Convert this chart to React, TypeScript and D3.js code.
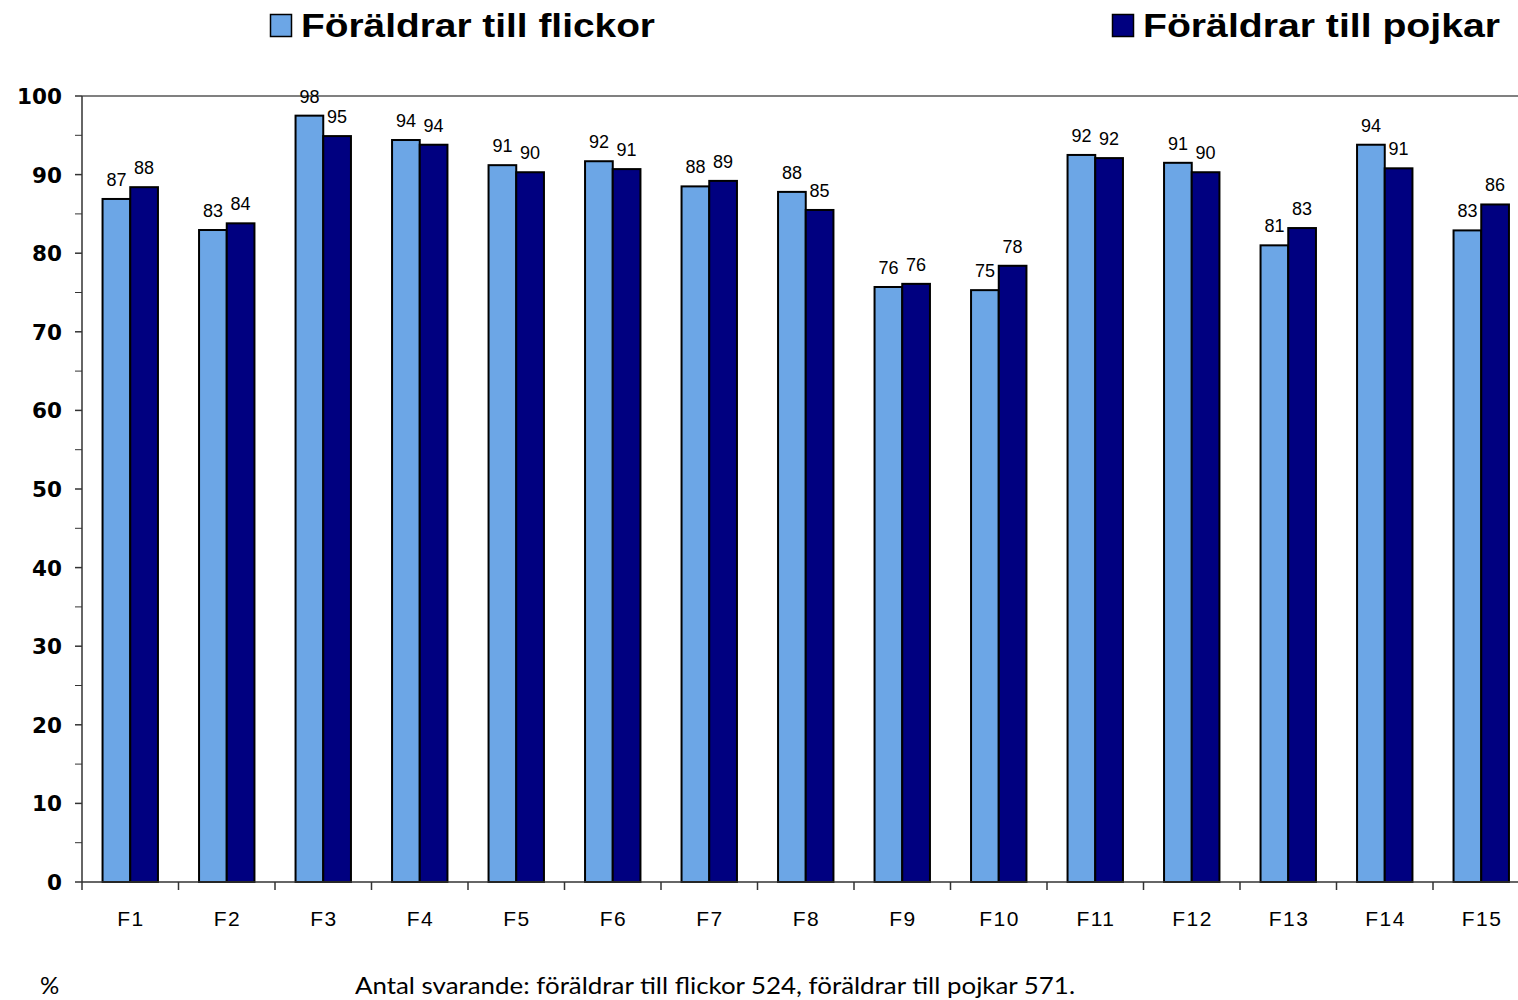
import React from "react";
import * as d3 from "d3";

const categories = ["F1","F2","F3","F4","F5","F6","F7","F8","F9","F10","F11","F12","F13","F14","F15"];
const flickor = [86.9, 82.95, 97.5, 94.4, 91.2, 91.7, 88.5, 87.8, 75.7, 75.3, 92.5, 91.5, 81.0, 93.8, 82.9];
const pojkar = [88.4, 83.8, 94.9, 93.8, 90.3, 90.7, 89.2, 85.5, 76.1, 78.4, 92.1, 90.3, 83.2, 90.8, 86.2];
const flickorLabels = [87, 83, 98, 94, 91, 92, 88, 88, 76, 75, 92, 91, 81, 94, 83];
const pojkarLabels = [88, 84, 95, 94, 90, 91, 89, 85, 76, 78, 92, 90, 83, 91, 86];
const yTicks = [0, 10, 20, 30, 40, 50, 60, 70, 80, 90, 100];
const seriesNames = ["Föräldrar till flickor", "Föräldrar till pojkar"];
const footnote = "Antal svarande: föräldrar till flickor 524, föräldrar till pojkar 571.";

const LIGHT = "#6CA6E6";
const DARK = "#000080";

export default function App() {
  const W = 1518, H = 1000;
  const x0 = 82, bandW = 96.5;
  const x = d3.scaleBand<string>().domain(categories).range([x0, x0 + bandW * categories.length]).paddingInner(0).paddingOuter(0);
  const y = d3.scaleLinear().domain([0, 100]).range([882, 96]);
  const barW = 27.7;
  const minor = d3.range(5, 100, 10);

  return (
    <svg width={W} height={H} style={{ position: "absolute", left: 0, top: 0, background: "#fff" }}>
      <rect x={0} y={0} width={W} height={H} fill="#fff" />
      {/* legend */}
      <rect x={270.5} y={14.5} width={21} height={22} fill={LIGHT} stroke="#000" strokeWidth={1.5} />
      <text x={301} y={37} fontFamily="'Liberation Sans', Arial, sans-serif" fontWeight="bold" fontSize={33} textLength={354} lengthAdjust="spacingAndGlyphs">{seriesNames[0]}</text>
      <rect x={1112.5} y={14.5} width={21} height={22} fill={DARK} stroke="#000" strokeWidth={1.5} />
      <text x={1143} y={37} fontFamily="'Liberation Sans', Arial, sans-serif" fontWeight="bold" fontSize={33} textLength={357} lengthAdjust="spacingAndGlyphs">{seriesNames[1]}</text>

      {/* top gridline */}
      <line x1={x0} x2={W} y1={y(100)} y2={y(100)} stroke="#808080" strokeWidth={2} />

      {/* bars */}
      {categories.map((c, i) => {
        const cx = (x(c) as number) + bandW / 2;
        return (
          <g key={c}>
            <rect x={cx - barW} y={y(flickor[i])} width={barW} height={y(0) - y(flickor[i])} fill={LIGHT} stroke="#000" strokeWidth={2} />
            <rect x={cx} y={y(pojkar[i])} width={barW} height={y(0) - y(pojkar[i])} fill={DARK} stroke="#000" strokeWidth={2} />
            <text x={cx - barW / 2} y={y(flickor[i]) - 13} textAnchor="middle" fontFamily="'Liberation Sans', Arial, sans-serif" fontSize={18}>{flickorLabels[i]}</text>
            <text x={cx + barW / 2} y={y(pojkar[i]) - 13} textAnchor="middle" fontFamily="'Liberation Sans', Arial, sans-serif" fontSize={18}>{pojkarLabels[i]}</text>
            <text x={cx + 0.75} y={926} textAnchor="middle" fontFamily="'Liberation Sans', Arial, sans-serif" fontSize={21} letterSpacing={1.5}>{c}</text>
          </g>
        );
      })}

      {/* axes */}
      <line x1={x0} x2={x0} y1={y(100)} y2={y(0)} stroke="#333" strokeWidth={1.5} />
      <line x1={x0} x2={W} y1={y(0)} y2={y(0)} stroke="#333" strokeWidth={1.5} />
      {yTicks.map((t) => (
        <g key={t}>
          <line x1={x0 - 7} x2={x0} y1={y(t)} y2={y(t)} stroke="#333" strokeWidth={1.5} />
          <text x={62} y={y(t) + 8} textAnchor="end" fontFamily="'DejaVu Sans', Verdana, sans-serif" fontWeight="bold" fontSize={21.5}>{t}</text>
        </g>
      ))}
      {minor.map((t) => (
        <line key={t} x1={x0 - 7} x2={x0} y1={y(t)} y2={y(t)} stroke="#333" strokeWidth={1} />
      ))}
      {categories.map((c) => (
        <line key={c} x1={x(c) as number} x2={x(c) as number} y1={y(0)} y2={y(0) + 8} stroke="#333" strokeWidth={1.5} />
      ))}

      {/* footer */}
      <text x={40} y={994} fontFamily="Lato, 'Open Sans', sans-serif" fontSize={24}>%</text>
      <text x={355} y={994} fontFamily="Lato, 'Open Sans', sans-serif" fontSize={24} textLength={720} lengthAdjust="spacingAndGlyphs">{footnote}</text>
    </svg>
  );
}
